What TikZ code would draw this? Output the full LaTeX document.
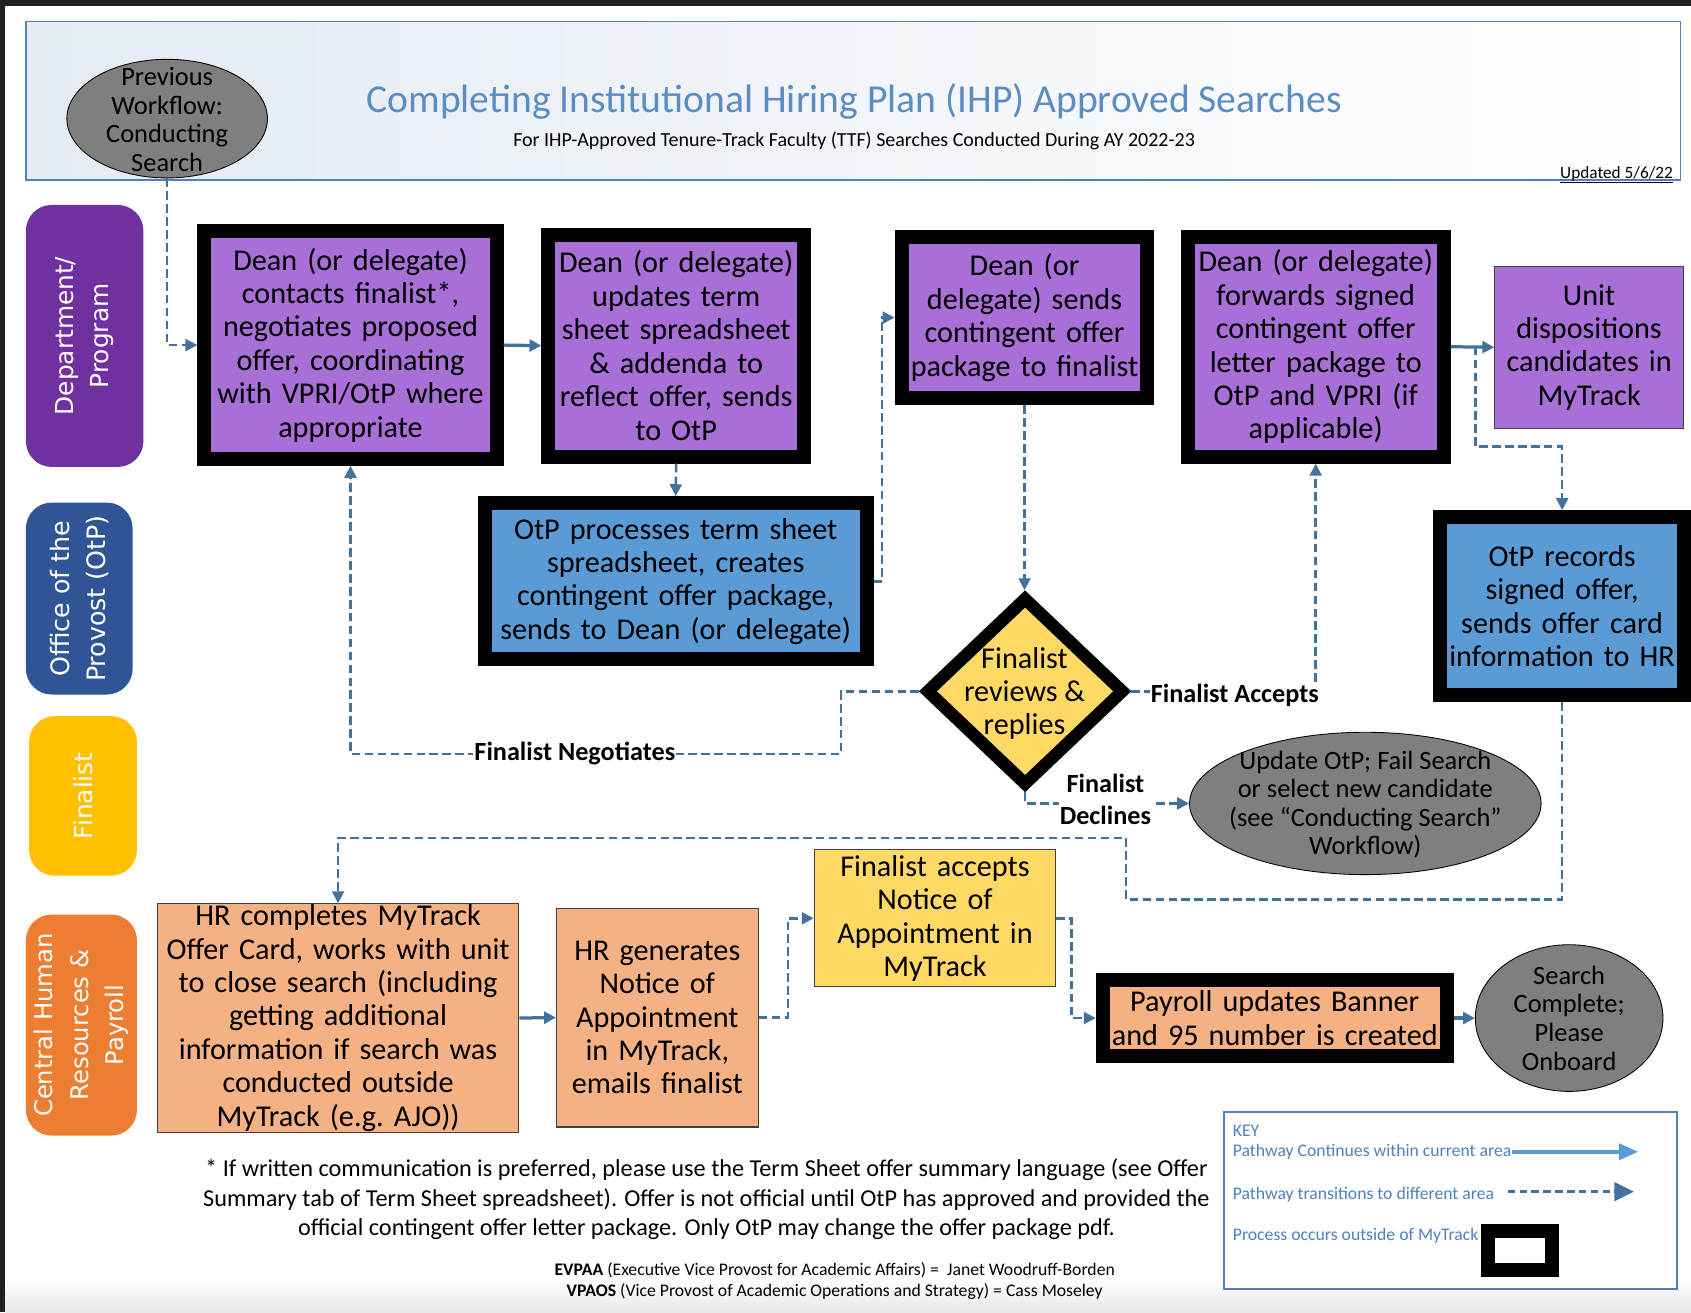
\documentclass[tikz,border=0pt]{standalone}
\usepackage{fontspec}
\setmainfont{Carlito}
\newfontfamily\lanefont{DejaVu Sans}
\usetikzlibrary{arrows.meta,shapes.geometric,calc}
\definecolor{purp}{HTML}{A86FD6}
\definecolor{lanepurp}{HTML}{7030A0}
\definecolor{laneblue}{HTML}{2F5597}
\definecolor{lanegold}{HTML}{FFC000}
\definecolor{laneorange}{HTML}{ED7D31}
\definecolor{bluebox}{HTML}{5B9BD5}
\definecolor{ylw}{HTML}{FFD966}
\definecolor{peach}{HTML}{F4B183}
\definecolor{grayell}{HTML}{7F7F7F}
\definecolor{conn}{HTML}{41719C}
\definecolor{keyblue}{HTML}{4F81BD}
\definecolor{titleblue}{HTML}{5B8CC4}
\definecolor{keyarrow}{HTML}{5B9BD5}
\definecolor{hdrl}{HTML}{E4EBF3}
\definecolor{pagedark}{HTML}{202020}
\newcommand{\boxfont}{\fontsize{28}{31}\selectfont}
\tikzset{
  dbox/.style={draw=black, line width=13pt, inner sep=0pt, align=center, font=\boxfont, fill=#1},
  sbox/.style={draw=black!75, line width=1pt, inner sep=0pt, align=center, font=\boxfont, fill=#1},
  ell/.style={ellipse, draw=black, line width=0.8pt, fill=grayell, inner sep=0pt},
  etxt/.style={align=center, inner sep=0pt, font=\fontsize{24.5}{26.5}\selectfont},
  sol/.style={draw=conn, line width=3pt, -{Triangle[length=11pt,width=11pt]}},
  dsh/.style={draw=conn, line width=2.3pt, dash pattern=on 8pt off 4pt, -{Triangle[length=11pt,width=11pt]}},
  lbl/.style={fill=white, inner sep=1pt, align=center, font=\bfseries\fontsize{24.3}{30}\selectfont},
  lane/.style={fill=#1, rounded corners=24pt, align=center, text=white, inner sep=0pt, rotate=90, font=\lanefont\fontsize{23}{33}\selectfont},
  keytxt/.style={anchor=west, inner sep=0pt, text=keyblue, font=\fontsize{16.4}{18}\selectfont},
}
\begin{document}
\begin{tikzpicture}[x=1pt,y=-1pt]
\useasboundingbox (0,0) rectangle (1568,1217);
\fill[pagedark] (0,0) rectangle (1568,1217);
\fill[white] (5,6) rectangle (1568,1217);
\shade[top color=white, bottom color=black!9] (5,1185) rectangle (1568,1217);

% header
\node[draw=keyblue, line width=1.2pt, left color=hdrl, right color=white, minimum width=1534pt, minimum height=147pt, inner sep=0pt] (hdr) at (791,93.5) {};
\node[text=titleblue, inner sep=0pt, font=\fontsize{36.7}{44}\selectfont] (title) at (792,94) {Completing Institutional Hiring Plan (IHP) Approved Searches};
\node[inner sep=0pt, font=\fontsize{18.5}{22}\selectfont] (sub) at (792,131) {For IHP-Approved Tenure-Track Faculty (TTF) Searches Conducted During AY 2022-23};
\node[inner sep=0pt, font=\fontsize{16}{19}\selectfont] (upd8) at (1499,162) {\underline{Updated 5/6/22}};

% lanes
\node[lane=lanepurp, minimum width=243pt, minimum height=109pt] (L1) at (78.5,311.5) {Department/\\Program};
\node[lane=laneblue, minimum width=178pt, minimum height=99pt, font=\lanefont\fontsize{23.5}{33}\selectfont] (L2) at (73.5,555) {Office of the\\Provost (OtP)};
\node[lane=lanegold, minimum width=148pt, minimum height=100pt] (L3) at (77,738) {Finalist};
\node[lane=laneorange, minimum width=205pt, minimum height=103pt, font=\lanefont\fontsize{22.5}{33}\selectfont] (L4) at (75.5,950.5) {Central Human\\Resources \&\\Payroll};

% ellipses
\node[ell, minimum width=186pt, minimum height=110pt] (prev) at (155,110) {};
\node[etxt] (prevt) at (155,111) {Previous\\Workflow:\\Conducting\\Search};
\node[ell, minimum width=326pt, minimum height=132pt] (upd) at (1266,745) {};
\node[etxt] (updt) at (1266,746) {Update OtP; Fail Search\\or select new candidate\\(see “Conducting Search”\\Workflow)};
\node[ell, minimum width=174pt, minimum height=136pt] (sc) at (1455,944) {};
\node[etxt] (sct) at (1455,944) {Search\\Complete;\\Please\\Onboard};

% process boxes
\node[dbox=purp, minimum width=271pt, minimum height=211pt, text width=258pt] (A) at (325,320) {Dean (or delegate)\\contacts finalist*,\\negotiates proposed\\offer, coordinating\\with VPRI/OtP where\\appropriate};
\node[dbox=purp, minimum width=237pt, minimum height=206pt, text width=224pt] (B) at (627,320.5) {Dean (or delegate)\\updates term\\sheet spreadsheet\\\& addenda to\\reflect offer, sends\\to OtP};
\node[dbox=bluebox, minimum width=354pt, minimum height=145pt, text width=341pt] (C) at (626.5,539) {OtP processes term sheet\\spreadsheet, creates\\contingent offer package,\\sends to Dean (or delegate)};
\node[dbox=purp, minimum width=228pt, minimum height=150pt, text width=215pt] (D) at (950,294.5) {Dean (or\\delegate) sends\\contingent offer\\package to finalist};
\node[dbox=purp, minimum width=237pt, minimum height=204pt, text width=224pt] (E) at (1220,321.5) {Dean (or delegate)\\forwards signed\\contingent offer\\letter package to\\OtP and VPRI (if\\applicable)};
\node[sbox=purp, minimum width=175pt, minimum height=150pt, text width=173pt] (F) at (1473.5,322) {Unit\\dispositions\\candidates in\\MyTrack};
\node[dbox=bluebox, minimum width=226pt, minimum height=165pt, text width=212pt] (G) at (1448.5,562) {OtP records\\signed offer,\\sends offer card\\information to HR};
\node[diamond, draw=black, line width=11.5pt, fill=ylw, minimum width=185pt, minimum height=176pt, inner sep=0pt] (dia) at (950.5,641) {};
\node[align=center, inner sep=0pt, font=\boxfont] (diat) at (950,643) {Finalist\\reviews \&\\replies};
\node[sbox=peach, minimum width=335pt, minimum height=212pt, text width=333pt] (H) at (313.5,944) {HR completes MyTrack\\Offer Card, works with unit\\to close search (including\\getting additional\\information if search was\\conducted outside\\MyTrack (e.g.\ AJO))};
\node[sbox=peach, minimum width=187pt, minimum height=203pt, text width=185pt] (I) at (609.5,943.5) {HR generates\\Notice of\\Appointment\\in MyTrack,\\emails finalist};
\node[sbox=ylw, minimum width=224pt, minimum height=127pt, text width=222pt] (J) at (867,851.5) {Finalist accepts\\Notice of\\Appointment in\\MyTrack};
\node[dbox=peach, minimum width=319pt, minimum height=71pt, text width=306pt] (K) at (1182,944) {Payroll updates Banner\\and 95 number is created};

% connectors
\draw[dsh] (prev.south) |- (A.west);
\draw[sol] (A.east) -- (B.west);
\draw[dsh] (B.south) -- (C.north);
\draw[dsh] (C.east) -- ++(8,0) |- (D.west);
\draw[dsh] (D.south) -- (D.south |- dia.north);
\coordinate (negc) at (780,699);
\draw[dsh] (dia.west) -| (negc) -| (A.south);
\draw[dsh] (dia.east) -| (E.south);
\draw[dsh] (dia.south) |- (upd.west);
\draw[sol] (E.east) -- (F.west);
\coordinate (br) at (1368,321.5);
\coordinate (brk) at (1368,414);
\draw[dsh] (br) -- (brk) -| (G.north);
\coordinate (g1) at (1044,834);
\coordinate (g2) at (313.5,777);
\draw[dsh] (G.south) |- (g1) |- (g2) -- (H.north);
\draw[sol] (H.east) -- (I.west);
\draw[dsh] (I.east) -- ++(27,0) |- (J.west);
\draw[dsh] (J.east) -- ++(14,0) |- (K.west);
\draw[sol] (K.east) -- (sc.west);

% connector labels
\node[lbl] (negl) at (533,699) {Finalist Negotiates};
\node[lbl] (accl) at (1145,645) {Finalist Accepts};
\node[lbl] (decl) at (1025,741) {Finalist\\Declines};

% footnotes
\node[align=center, inner sep=0pt, font=\fontsize{22.5}{27}\selectfont] (fn) at (655,1112) {* If written communication is preferred, please use the Term Sheet offer summary language (see Offer\\Summary tab of Term Sheet spreadsheet). Offer is not official until OtP has approved and provided the\\official contingent offer letter package. Only OtP may change the offer package pdf.};
\node[align=center, inner sep=0pt, font=\fontsize{16.4}{20}\selectfont] (ev) at (774,1188) {\textbf{EVPAA} (Executive Vice Provost for Academic Affairs) = \ Janet Woodruff-Borden\\\textbf{VPAOS} (Vice Provost of Academic Operations and Strategy) = Cass Moseley};

% key
\node[draw=keyblue, line width=1.5pt, fill=white, minimum width=420pt, minimum height=164pt, inner sep=0pt] (key) at (1345,1113) {};
\node[keytxt] (k1) at (1143,1049) {KEY};
\node[keytxt] (k2) at (1143,1068) {Pathway Continues within current area};
\node[keytxt] (k3) at (1143,1108) {Pathway transitions to different area};
\node[keytxt] (k4) at (1143,1146) {Process occurs outside of MyTrack};
\coordinate (ka) at (1519,1068);
\draw[draw=keyarrow, line width=3.5pt, -{Triangle[length=18pt,width=15pt]}] (k2.east) -- (ka);
\coordinate (kb1) at (1398,1105);
\coordinate (kb2) at (1515,1105);
\draw[draw=conn, line width=3pt, dash pattern=on 7pt off 4pt, -{Triangle[length=18pt,width=17pt]}] (kb1) -- (kb2);
\node[dbox=white, minimum width=60pt, minimum height=36pt] (kbox) at (1409.5,1159.5) {};
\end{tikzpicture}
\end{document}
